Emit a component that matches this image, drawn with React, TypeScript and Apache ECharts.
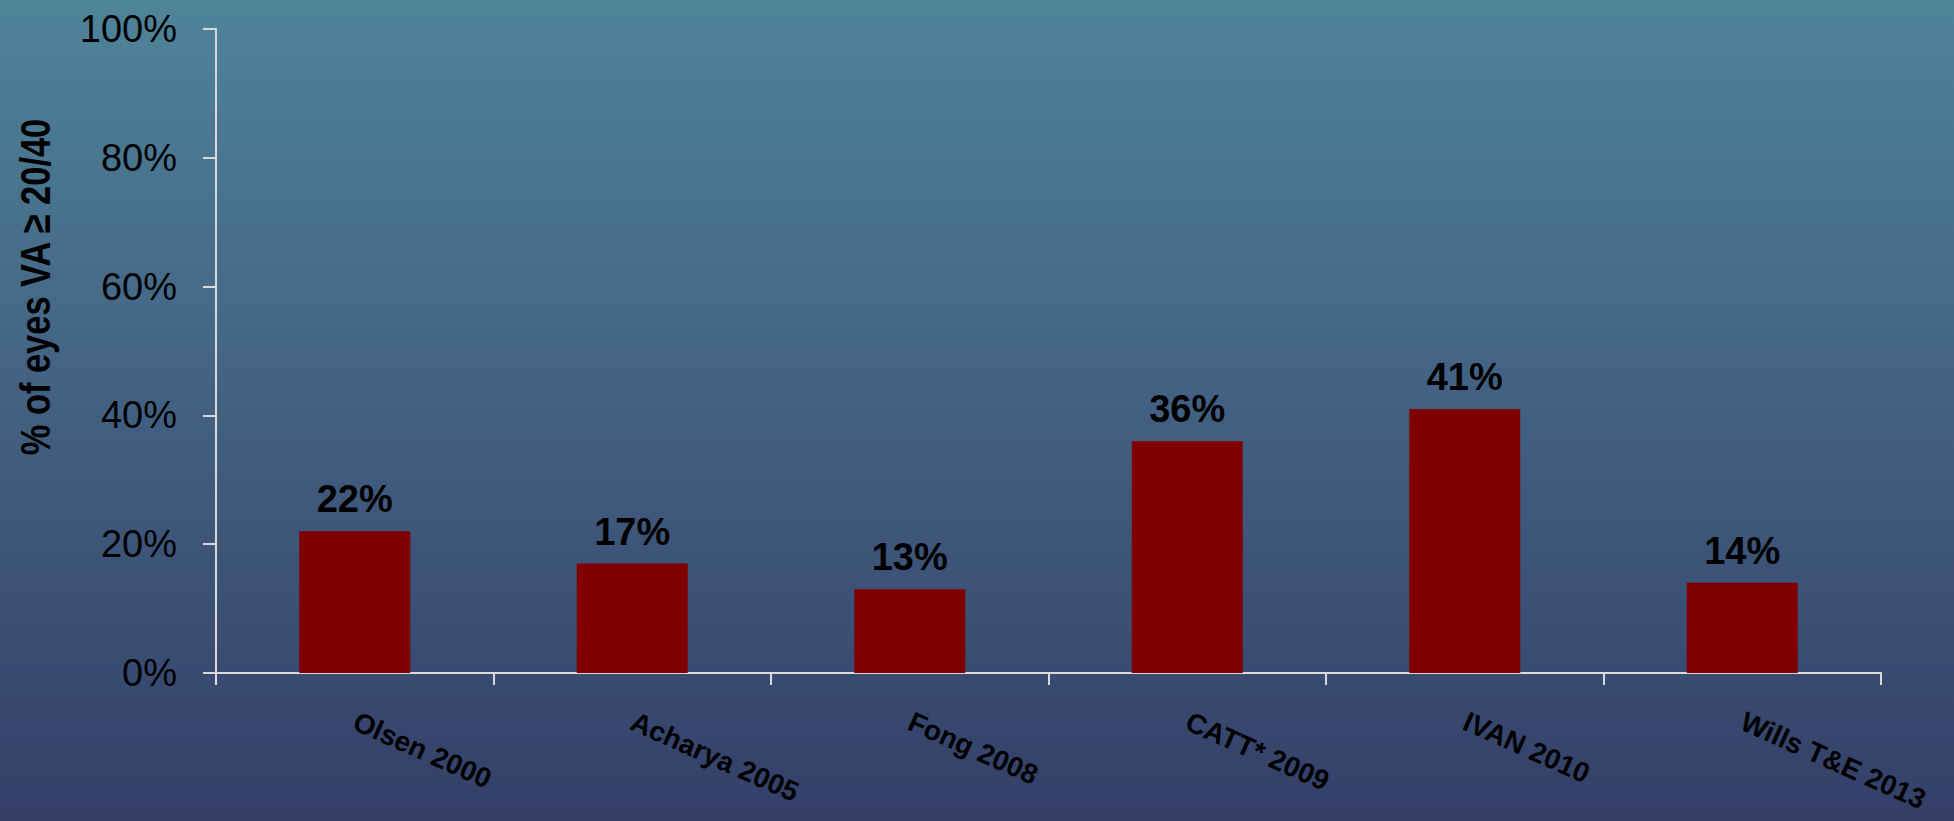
import React, { useEffect, useRef } from "react";
import * as echarts from "echarts";

const categories = ["Olsen 2000", "Acharya 2005", "Fong 2008", "CATT* 2009", "IVAN 2010", "Wills T&E 2013"];
const values = [22, 17, 13, 36, 41, 14];
const yTicks = [0, 20, 40, 60, 80, 100];
const yTitle = "% of eyes VA \u2265 20/40";

const SANS = "'Liberation Sans', Arial, sans-serif";

export default function App() {
  const ref = useRef<HTMLDivElement>(null);
  useEffect(() => {
    document.body.style.margin = "0";
    if (!ref.current) return;
    const chart = echarts.init(ref.current, null, { renderer: "svg" });
    chart.setOption({
      animation: false,
      backgroundColor: new echarts.graphic.LinearGradient(0, 0, 0, 1, [
        { offset: 0, color: "#4f8499" },
        { offset: 0.5, color: "#426082" },
        { offset: 1, color: "#343f68" },
      ]),
      grid: {
        left: 216,
        right: 73,
        top: 29,
        bottom: 148,
        containLabel: false,
        outerBoundsMode: "none",
      },
      graphic: [
        {
          type: "text",
          x: 35,
          y: 287,
          rotation: Math.PI / 2,
          scaleX: 0.82,
          style: {
            text: yTitle,
            font: `bold 42px ${SANS}`,
            fill: "#000",
            textAlign: "center",
            textVerticalAlign: "middle",
          },
        },
      ],
      xAxis: {
        type: "category",
        data: categories,
        axisLine: { lineStyle: { color: "#d9d9d9", width: 2 } },
        axisTick: { show: true, length: 12, lineStyle: { color: "#d9d9d9", width: 2 } },
        axisLabel: {
          rotate: -24,
          margin: 47,
          color: "#000",
          fontFamily: SANS,
          fontWeight: "bold",
          fontSize: 28,
          interval: 0,
        },
      },
      yAxis: {
        type: "value",
        min: 0,
        max: 100,
        interval: 20,
        splitLine: { show: false },
        axisLine: { show: true, lineStyle: { color: "#d9d9d9", width: 2 } },
        axisTick: { show: true, length: 13, lineStyle: { color: "#d9d9d9", width: 2 } },
        axisLabel: {
          formatter: (v: number) => (yTicks.includes(v) ? `${v}%` : ""),
          margin: 39,
          color: "#000",
          fontFamily: SANS,
          fontSize: 38,
        },
      },
      series: [
        {
          type: "bar",
          data: values,
          barWidth: "40%",
          itemStyle: { color: "#800000" },
          label: {
            show: true,
            position: "top",
            distance: 13,
            formatter: "{c}%",
            color: "#000",
            fontFamily: SANS,
            fontWeight: "bold",
            fontSize: 38,
          },
        },
      ],
    });
    return () => chart.dispose();
  }, []);
  return <div ref={ref} style={{ position: "fixed", left: 0, top: 0, width: 1954, height: 821 }} />;
}
